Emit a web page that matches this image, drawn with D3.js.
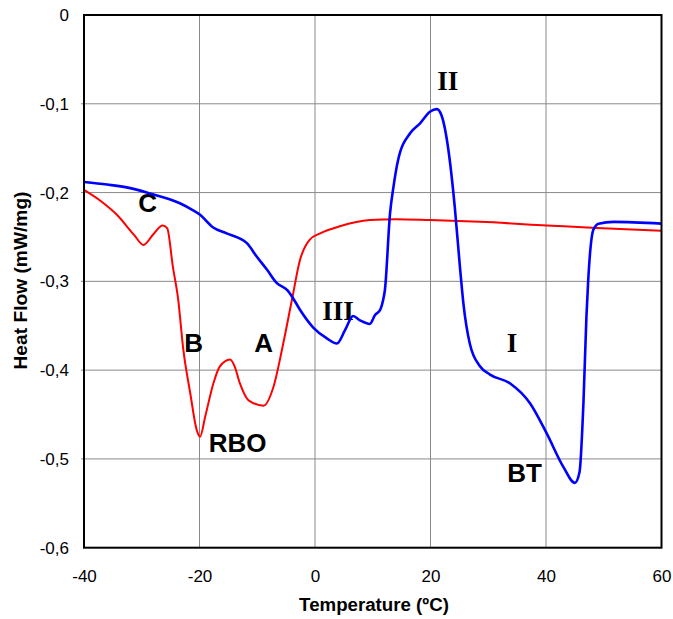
<!DOCTYPE html>
<html>
<head>
<meta charset="utf-8">
<script src="https://cdn.jsdelivr.net/npm/d3@7"></script>
<style>
  body { margin: 0; background: #fff; }
  svg text { font-family: Arial, "Liberation Sans", sans-serif; }
</style>
</head>
<body>
<div id="chart"></div>
<script>
// blue curve (BT), temperature / heat flow
const btTemp = [-40, -36, -32, -28.6, -23.4, -21.1, -19.9, -17.7, -15.3, -11.8, -10.1, -8.3, -6.6, -4.8, -3.8, -2.6, -0.3, 2, 3.8, 5.2, 6.6, 7.8, 9.5, 10.4, 11.3, 11.8, 12.1, 13.0, 13.6, 14.4, 16.5, 18.2, 19.9, 21.1, 21.9, 23.1, 24.2, 25.1, 25.7, 26.8, 28.6, 30.3, 33.8, 37.2, 40.1, 43.0, 45.0, 45.8, 46.5, 47.0, 47.3, 48.2, 49.1, 51.7, 60];
const btFlow = [-0.188, -0.191, -0.195, -0.201, -0.212, -0.220, -0.225, -0.239, -0.246, -0.257, -0.272, -0.287, -0.302, -0.310, -0.319, -0.332, -0.352, -0.364, -0.370, -0.355, -0.339, -0.344, -0.348, -0.338, -0.332, -0.321, -0.310, -0.223, -0.193, -0.163, -0.133, -0.122, -0.109, -0.106, -0.113, -0.152, -0.216, -0.284, -0.325, -0.370, -0.396, -0.405, -0.415, -0.437, -0.471, -0.509, -0.527, -0.515, -0.434, -0.340, -0.300, -0.242, -0.235, -0.233, -0.235];

// red curve (RBO)
const rboTemp = [-40, -37, -34.3, -31.3, -29.7, -28, -26.4, -25.6, -24.6, -23.7, -22.8, -21.6, -20.5, -19.9, -19.0, -17.6, -16.5, -14.7, -13.9, -13.0, -11.5, -8.9, -7.2, -5.5, -4.0, -2.6, -0.9, 0.9, 4.3, 9.5, 14.1, 19.9, 28.6, 40.1, 48.8, 60];
const rboFlow = [-0.197, -0.210, -0.225, -0.248, -0.259, -0.247, -0.237, -0.240, -0.284, -0.320, -0.377, -0.426, -0.467, -0.475, -0.452, -0.415, -0.396, -0.388, -0.396, -0.415, -0.434, -0.440, -0.419, -0.370, -0.321, -0.276, -0.253, -0.246, -0.238, -0.231, -0.230, -0.231, -0.233, -0.237, -0.240, -0.243];

const xTicks = [-40, -20, 0, 20, 40, 60];
const yTicks = [0, -0.1, -0.2, -0.3, -0.4, -0.5, -0.6];

// peak labels
const labelText = ["C", "B", "A", "RBO", "III", "II", "I", "BT"];
const labelTemp = [-29.0, -21.0, -8.9, -13.4, 4.0, 23.0, 34.1, 36.3];
const labelFlow = [-0.222, -0.380, -0.380, -0.492, -0.343, -0.085, -0.380, -0.526];
const labelSerif = [false, false, false, false, true, true, true, false];

const W = 673, H = 619;
const margin = { left: 84, top: 15, right: 11.5, bottom: 71.3 };
const width = W - margin.left - margin.right;
const height = H - margin.top - margin.bottom;

const svg = d3.select("#chart").append("svg")
  .attr("width", W)
  .attr("height", H);

const g = svg.append("g")
  .attr("transform", "translate(" + margin.left + "," + margin.top + ")");

const x = d3.scaleLinear().domain([-40, 60]).range([0, width]);
const y = d3.scaleLinear().domain([-0.6, 0]).range([height, 0]);

// grid
g.append("g").selectAll("line")
  .data(xTicks.slice(1, -1))
  .enter().append("line")
  .attr("x1", d => x(d)).attr("x2", d => x(d))
  .attr("y1", 0).attr("y2", height)
  .attr("stroke", "#8a8a8a").attr("stroke-width", 1);
g.append("g").selectAll("line")
  .data(yTicks.slice(1, -1))
  .enter().append("line")
  .attr("x1", -3).attr("x2", width)
  .attr("y1", d => y(d)).attr("y2", d => y(d))
  .attr("stroke", "#8a8a8a").attr("stroke-width", 1);

// axes (labels only)
g.append("g")
  .attr("transform", "translate(0," + height + ")")
  .call(d3.axisBottom(x).tickValues(xTicks).tickSize(0).tickPadding(22)
    .tickFormat(d => String(d)))
  .call(a => a.select(".domain").remove())
  .selectAll("text").style("font-size", "17px").attr("fill", "#000");
g.append("g")
  .call(d3.axisLeft(y).tickValues(yTicks).tickSize(0).tickPadding(15)
    .tickFormat(d => d === 0 ? "0" : d.toFixed(1).replace(".", ",")))
  .call(a => a.select(".domain").remove())
  .selectAll("text").style("font-size", "17px").attr("fill", "#000");

// labels
g.append("g").selectAll("text")
  .data(labelText)
  .enter().append("text")
  .attr("x", (d, i) => x(labelTemp[i]))
  .attr("y", (d, i) => y(labelFlow[i]))
  .attr("text-anchor", "middle")
  .style("font-family", (d, i) => labelSerif[i] ? "'Liberation Serif', 'Times New Roman', serif" : "Arial, 'Liberation Sans', sans-serif")
  .style("font-weight", "bold")
  .style("font-size", (d, i) => labelSerif[i] ? "27px" : "26px")
  .text(d => d);

// curves
const line = d3.line()
  .x(d => x(d[0]))
  .y(d => y(d[1]))
  .curve(d3.curveMonotoneX);

g.append("path")
  .datum(rboTemp.map((t, i) => [t, rboFlow[i]]))
  .attr("d", line)
  .attr("fill", "none")
  .attr("stroke", "#ff0000")
  .attr("stroke-width", 2);

g.append("path")
  .datum(btTemp.map((t, i) => [t, btFlow[i]]))
  .attr("d", line)
  .attr("fill", "none")
  .attr("stroke", "#0000ff")
  .attr("stroke-width", 2.6);

// frame
g.append("rect")
  .attr("width", width).attr("height", height)
  .attr("fill", "none").attr("stroke", "#000").attr("stroke-width", 2);

// axis titles
svg.append("text")
  .attr("x", 374)
  .attr("y", 611)
  .attr("text-anchor", "middle")
  .style("font-size", "18.7px").style("font-weight", "bold")
  .text("Temperature (ºC)");
svg.append("text")
  .attr("transform", "translate(27,280.5) rotate(-90)")
  .attr("text-anchor", "middle")
  .style("font-size", "19.2px").style("font-weight", "bold")
  .text("Heat Flow (mW/mg)");
</script>
</body>
</html>
